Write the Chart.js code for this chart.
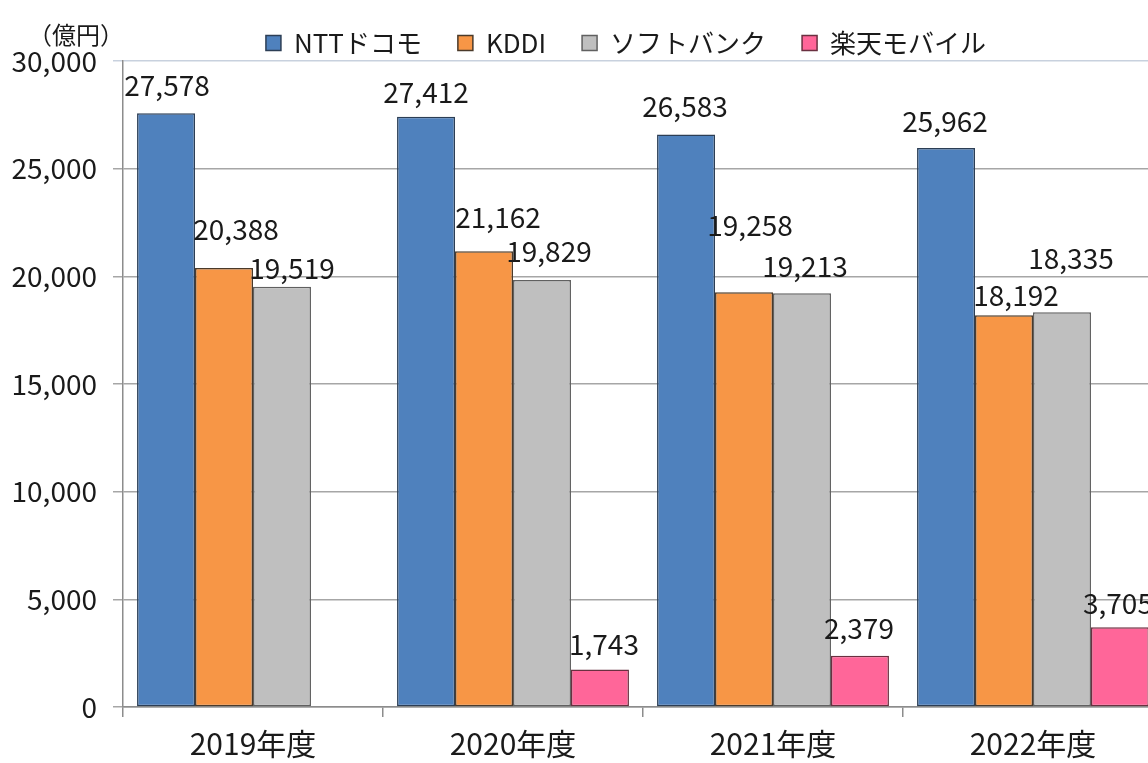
<!DOCTYPE html>
<html>
<head>
<meta charset="utf-8">
<script src="https://cdn.jsdelivr.net/npm/chart.js@4.4.1/dist/chart.umd.min.js"></script>
<style>
  html, body { margin: 0; padding: 0; background: #fff; overflow: hidden; }
  #wrap { width: 1252px; height: 763px; }
</style>
</head>
<body>
<div id="wrap"><canvas id="chart"></canvas></div>
<script>
// 年度ごとの売上（億円）
const years = ['2019年度', '2020年度', '2021年度', '2022年度'];
const docomo = [27578, 27412, 26583, 25962];
const kddi = [20388, 21162, 19258, 18192];
const softbank = [19519, 19829, 19213, 18335];
const rakuten = [null, 1743, 2379, 3705];
const yTicks = [0, 5000, 10000, 15000, 20000, 25000, 30000];

// ラベルのずれ（バー中心・バー上端からのpx）
const labelDx = [[1, 0, -1, -1], [12, 14, 6, 12], [10, 7, 3, 9], [0, 4, -1, -2]];
const labelDy = [[-28, -24, -28, -27], [-39, -34, -67, -20], [-18, -29, -27, -54], [0, -25, -27, -24]];

const FONT = "'Noto Sans CJK JP', 'Noto Sans', sans-serif";

const valueLabels = {
    id: 'valueLabels',
    afterDatasetsDraw(chart) {
        const ctx = chart.ctx;
        ctx.save();
        ctx.font = '28px ' + FONT;
        ctx.fillStyle = '#1a1a1a';
        ctx.textAlign = 'center';
        ctx.textBaseline = 'middle';
        chart.data.datasets.forEach((ds, i) => {
            chart.getDatasetMeta(i).data.forEach((bar, j) => {
                let v = ds.data[j];
                if (v === null) return;
                ctx.fillText(v.toLocaleString('en-US'), bar.x + labelDx[i][j], bar.y + labelDy[i][j]);
            });
        });
        ctx.restore();
    }
};

const unitLabel = {
    id: 'unitLabel',
    afterDraw(chart) {
        const ctx = chart.ctx;
        ctx.save();
        ctx.font = '24px ' + FONT;
        ctx.fillStyle = '#1a1a1a';
        ctx.textAlign = 'left';
        ctx.textBaseline = 'middle';
        ctx.fillText('（億円）', chart.chartArea.left - 95, chart.chartArea.top - 26);
        ctx.restore();
    }
};

new Chart(document.getElementById('chart'), {
    type: 'bar',
    data: {
        labels: years,
        datasets: [
            { label: 'NTTドコモ', data: docomo, backgroundColor: '#4f81bd', borderColor: '#2c3e55' },
            { label: 'KDDI', data: kddi, backgroundColor: '#f79646', borderColor: '#4a3a2a' },
            { label: 'ソフトバンク', data: softbank, backgroundColor: '#bfbfbf', borderColor: '#606060' },
            { label: '楽天モバイル', data: rakuten, backgroundColor: '#ff6699', borderColor: '#6a3040' }
        ]
    },
    options: {
        responsive: true,
        maintainAspectRatio: false,
        animation: false,
        layout: { padding: { left: 0, right: 0, top: -6, bottom: 0 } },
        datasets: {
            bar: { borderWidth: 1.5, categoryPercentage: 0.892, barPercentage: 1.0, borderSkipped: false }
        },
        plugins: {
            tooltip: { enabled: false },
            legend: {
                position: 'top',
                maxHeight: 67,
                labels: {
                    font: { family: FONT, size: 26 },
                    color: '#1a1a1a',
                    boxWidth: 15,
                    boxHeight: 15,
                    padding: 36
                }
            }
        },
        scales: {
            x: {
                afterFit: s => { s.height = 56; },
                grid: { display: true, drawOnChartArea: false, offset: true, tickLength: 10, color: '#8c8c8c', lineWidth: 1.5 },
                border: { display: true, color: '#8c8c8c', width: 1.5 },
                ticks: { font: { family: FONT, size: 30 }, color: '#1a1a1a', padding: 9 }
            },
            y: {
                min: 0,
                max: 30000,
                afterFit: s => { s.width = 123; },
                afterBuildTicks: s => { s.ticks = yTicks.map(v => ({ value: v })); },
                grid: {
                    color: c => c.tick && c.tick.value === 30000 ? '#c8d1de' : '#a6a6a6',
                    lineWidth: 1.5,
                    tickLength: 10
                },
                border: { display: true, color: '#8c8c8c', width: 1.5 },
                ticks: {
                    font: { family: FONT, size: 28 },
                    color: '#1a1a1a',
                    padding: 16,
                    callback: v => v.toLocaleString('en-US')
                }
            },
            // 右側の余白（プロット領域を画面外まで伸ばすため）
            yPad: {
                position: 'right',
                afterFit: s => { s.width = 89; },
                grid: { display: false },
                border: { display: false },
                ticks: { display: false }
            }
        }
    },
    plugins: [valueLabels, unitLabel]
});
</script>
</body>
</html>
